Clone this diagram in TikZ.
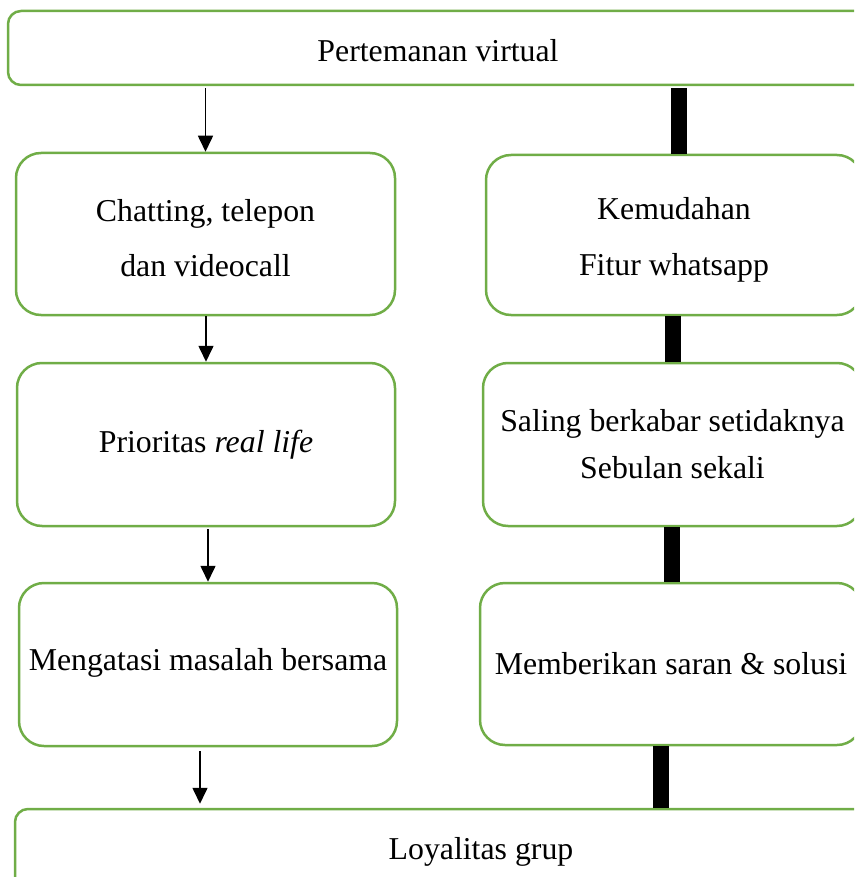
\documentclass[tikz,border=0pt]{standalone}
\usepackage{fontspec}
\setmainfont{Liberation Serif}
\usetikzlibrary{arrows.meta}
\definecolor{boxgreen}{HTML}{70AD47}

\begin{document}
\begin{tikzpicture}[x=1pt, y=-1pt,
    box/.style={draw=boxgreen, line width=2.5pt, rounded corners=25pt, align=center, inner sep=0pt, font=\fontsize{31.8}{38}\selectfont},
    wide/.style={box, rounded corners=13pt},
    link/.style={-{Triangle[length=16pt, width=15pt]}, line width=1.6pt},
    bar/.style={line width=16pt}]
    \useasboundingbox (0,0) rectangle (854,877);
    \clip (0,0) rectangle (854,877);

    % Top and bottom
    \node[wide, minimum width=860pt, minimum height=74pt, text height=28pt] (virtual) at (438,48) {Pertemanan virtual};
    \node[wide, minimum width=932pt, minimum height=81pt, text height=26pt] (loyal) at (481,849.5) {Loyalitas grup};

    % Left column
    \node[box, minimum width=379pt, minimum height=162pt, text height=85pt, text depth=0pt] (chat) at (205.5,234) {Chatting, telepon\\[17pt] dan videocall};
    \node[box, minimum width=378pt, minimum height=163pt] (prior) at (206,444.5) {Prioritas \textit{real life}};
    \node[box, minimum width=378pt, minimum height=163pt, text depth=11pt] (solve) at (208,664.5) {Mengatasi masalah bersama};

    % Right column
    \node[box, minimum width=376pt, minimum height=160pt, text height=87pt, text depth=7pt] (fitur) at (674,235) {Kemudahan\\[17pt] Fitur whatsapp};
    \node[box, minimum width=379pt, minimum height=163pt] (kabar) at (672.5,444.5) {Saling berkabar setidaknya\\[9pt] Sebulan sekali};
    \node[box, minimum width=382pt, minimum height=162pt] (saran) at (671,664) {Memberikan saran \& solusi};

    % Arrows
    \draw[link, shorten <=2pt] (virtual.south -| chat.north) -- (chat.north);
    \draw[link] (chat.south -| prior.north) -- (prior.north);
    \draw[link, shorten <=2pt] (prior.south -| solve.north) -- (solve.north);
    \draw[link, shorten <=4pt, shorten >=4pt] ([xshift=-8pt]solve.south) -- ([xshift=-8pt]loyal.north -| solve.south);

    % Bars
    \draw[bar, shorten <=2pt] ([xshift=5pt]virtual.south -| fitur.north) -- ([xshift=5pt]fitur.north);
    \draw[bar] ([xshift=-1pt]fitur.south) -- ([xshift=-1pt]kabar.north -| fitur.south);
    \draw[bar] ([xshift=-1pt]kabar.south) -- ([xshift=-1pt]saran.north -| kabar.south);
    \draw[bar] ([xshift=-10pt]saran.south) -- ([xshift=-10pt]loyal.north -| saran.south);
\end{tikzpicture}
\end{document}
